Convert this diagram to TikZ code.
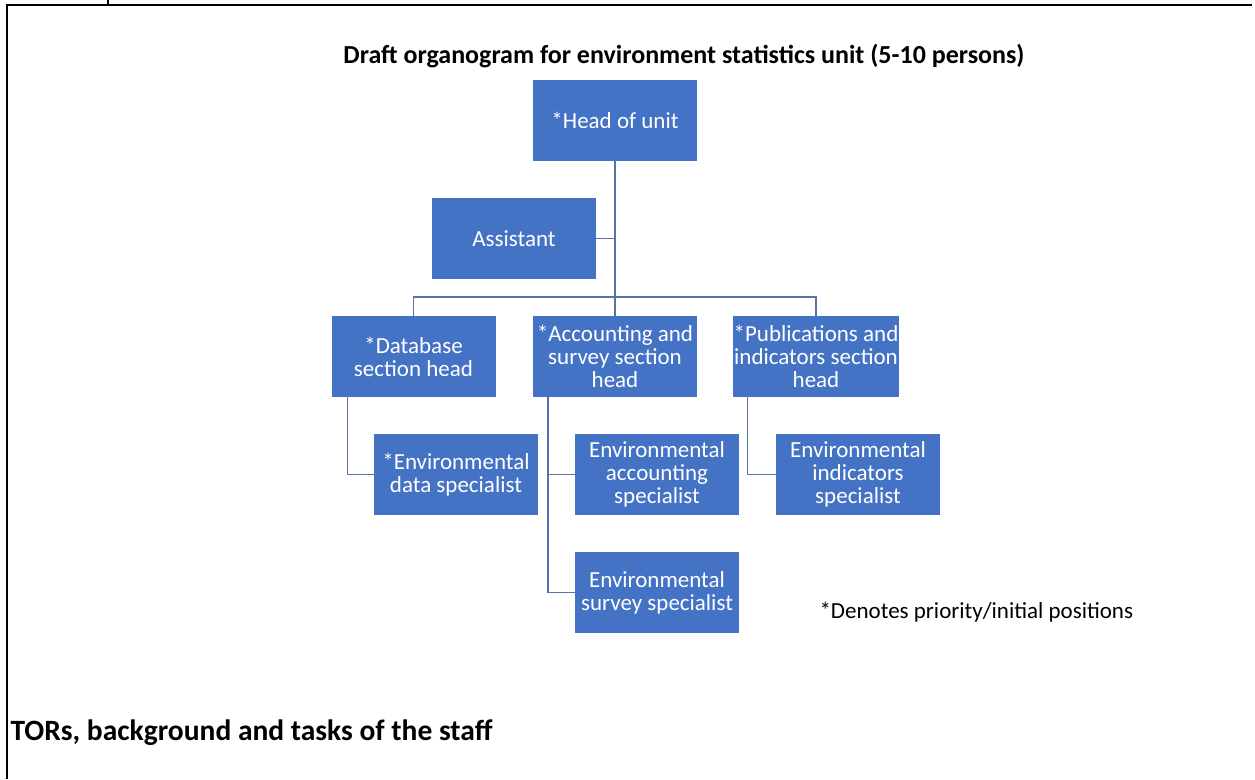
\documentclass[tikz,border=0pt]{standalone}
\usepackage{fontspec}
\setmainfont{Carlito}
\definecolor{boxblue}{HTML}{4472C4}
\definecolor{linkblue}{RGB}{86,114,170}
\begin{document}
\begin{tikzpicture}[x=1pt,y=-1pt,
  unit/.style={fill=boxblue,draw=none,minimum width=164pt,minimum height=81pt,inner sep=1pt,
    text=white,align=center,font=\fontsize{23}{23}\selectfont},
  link/.style={draw=linkblue,line width=1.4pt},
  frame/.style={draw=black,line width=1.5pt}]
\useasboundingbox (0,0) rectangle (1255,779);
\draw[frame] (108,0) -- (108,5);
\draw[frame] (7,779) -- (7,5) -- (1252,5);
\node[font=\bfseries\fontsize{26}{30}\selectfont] (title) at (684,56) {Draft organogram for environment statistics unit (5-10 persons)};
\node[unit] (head) at (615,120.5) {*Head of unit};
\node[unit] (assist) at (514,238.5) {Assistant};
\node[unit] (db) at (413.5,356.5) {*Database\\section head};
\node[unit] (acc) at (615,356.5) {*Accounting and\\survey section\\head};
\node[unit] (pub) at (816,356.5) {*Publications and\\indicators section\\head};
\node[unit] (envdata) at (456,474.5) {*Environmental\\data specialist};
\node[unit] (envacc) at (657,474.5) {Environmental\\accounting\\specialist};
\node[unit] (envsurv) at (657,592.5) {Environmental\\survey specialist};
\node[unit] (envind) at (858,474.5) {Environmental\\indicators\\specialist};
\node[anchor=west,font=\fontsize{23}{23}\selectfont] (legend) at (816,612) {*Denotes priority/initial positions};
\node[anchor=west,font=\bfseries\fontsize{29.5}{32}\selectfont] (tors) at (7,733) {TORs, background and tasks of the staff};
\coordinate (bar) at (615,297);
\draw[link] (head.south) -- (acc.north);
\draw[link] (assist.east) -- (head.south |- assist.east);
\draw[link] (db.north) |- (bar) -| (pub.north);
\draw[link] ([xshift=16pt]db.south west) |- (envdata.west);
\draw[link] ([xshift=15pt]acc.south west) |- (envacc.west);
\draw[link] ([xshift=15pt]acc.south west) |- (envsurv.west);
\draw[link] ([xshift=15pt]pub.south west) |- (envind.west);
\end{tikzpicture}
\end{document}
